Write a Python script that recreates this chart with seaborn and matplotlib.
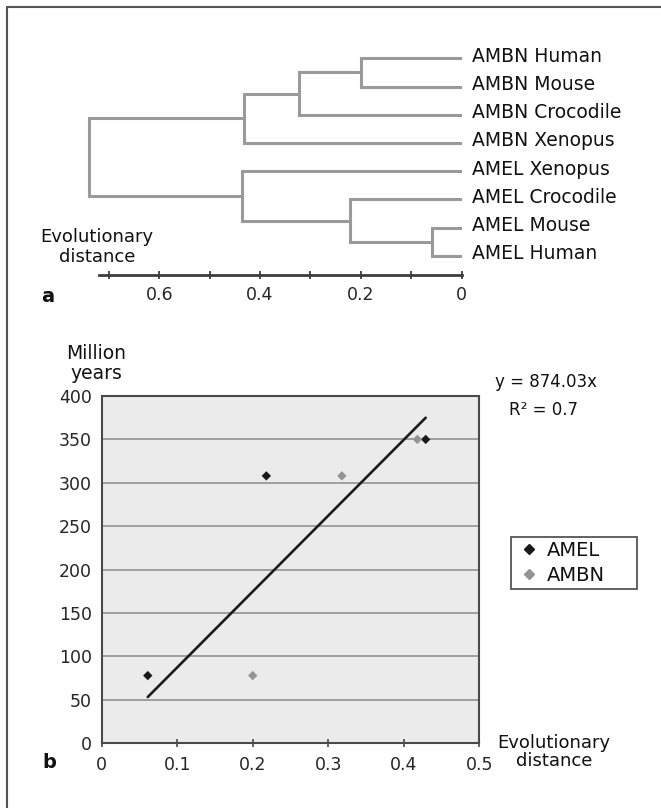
import numpy as np
import pandas as pd
import matplotlib
matplotlib.use("Agg")
import matplotlib.pyplot as plt
from matplotlib.lines import Line2D
import seaborn as sns

# ---------------- data ----------------
# (a) dendrogram: leaves top-to-bottom, merges (children ids, merge distance)
leaf_labels = ["AMBN Human", "AMBN Mouse", "AMBN Crocodile", "AMBN Xenopus",
               "AMEL Xenopus", "AMEL Crocodile", "AMEL Mouse", "AMEL Human"]
merge_left = [0, 8, 9, 6, 5, 4, 10]
merge_right = [1, 2, 3, 7, 11, 12, 13]
merge_height = [0.200, 0.322, 0.431, 0.059, 0.222, 0.435, 0.740]
dendro_major_ticks = [0, 0.2, 0.4, 0.6]
dendro_minor_ticks = [0.1, 0.3, 0.5, 0.7]
dendro_tick_labels = ["0", "0.2", "0.4", "0.6"]

# (b) scatter: evolutionary distance vs divergence time
genes = ["AMEL", "AMEL", "AMEL", "AMBN", "AMBN", "AMBN"]
distance = [0.061, 0.218, 0.429, 0.200, 0.318, 0.418]
million_years = [78, 308, 350, 78, 308, 350]
slope = 874.03
r_squared = 0.7
x_ticks = [0, 0.1, 0.2, 0.3, 0.4, 0.5]
x_tick_labels = ["0", "0.1", "0.2", "0.3", "0.4", "0.5"]
y_ticks = [0, 50, 100, 150, 200, 250, 300, 350, 400]

# ---------------- style ----------------
sns.set_style("white")
plt.rcParams["font.family"] = ["DejaVu Sans"]
plt.rcParams["text.color"] = "#111111"

W, H = 661, 808
fig = plt.figure(figsize=(W / 100, H / 100), dpi=100)
fig.patch.set_facecolor("white")

def fx(px):
    return px / W

def fy(py):
    return 1 - py / H

# ---------------- (a) dendrogram ----------------
top_px, bot_px = 30, 290
leaf0_px, spacing_px = 58.3, 28.24
x0_px, x_zero_px, px_per_unit = 80, 461.6, 504.0
ax1 = fig.add_axes([fx(x0_px), fy(bot_px), fx(x_zero_px - x0_px), (bot_px - top_px) / H])
ax1.set_xlim((x_zero_px - x0_px) / px_per_unit, 0)
ylim_top = -(leaf0_px - top_px) / spacing_px
ylim_bot = (bot_px - leaf0_px) / spacing_px
ax1.set_ylim(ylim_bot, ylim_top)
ax1.set_facecolor("none")

node_y = list(range(len(leaf_labels)))
node_h = [0.0] * len(leaf_labels)
dcol = "#9a9a9a"
for l, r, h in zip(merge_left, merge_right, merge_height):
    yl, yr = node_y[l], node_y[r]
    ax1.plot([node_h[l], h, h, node_h[r]], [yl, yl, yr, yr], color=dcol,
             lw=2.2, solid_joinstyle="miter", solid_capstyle="butt")
    node_y.append((yl + yr) / 2)
    node_h.append(h)

for i, lab in enumerate(leaf_labels):
    ax1.annotate(lab, xy=(0, i), xytext=(7.6, -2.4), textcoords="offset points",
                 ha="left", va="baseline", fontsize=13.5, annotation_clip=False)

for s in ["left", "right", "top"]:
    ax1.spines[s].set_visible(False)
axis_y = (275 - leaf0_px) / spacing_px
ax1.spines["bottom"].set_position(("data", axis_y))
ax1.spines["bottom"].set_bounds(0, 0.72)
ax1.spines["bottom"].set_color("#3d3d3d")
ax1.spines["bottom"].set_linewidth(2.0)
ax1.set_xticks(dendro_major_ticks)
ax1.set_xticklabels(dendro_tick_labels)
ax1.set_xticks(dendro_minor_ticks, minor=True)
ax1.tick_params(axis="x", which="both", direction="inout", length=5.5, width=1.3,
                color="#3d3d3d", bottom=True)
ax1.tick_params(axis="x", which="major", labelsize=12.5, pad=5)
ax1.set_yticks([])

fig.text(fx(97), fy(247), "Evolutionary\ndistance", ha="center", va="center",
         fontsize=13, linespacing=1.1)
fig.text(fx(48), fy(296.7), "a", ha="center", va="center", fontsize=14, fontweight="bold")

# ---------------- (b) scatter ----------------
df = pd.DataFrame({"gene": genes, "distance": distance, "myr": million_years})
L, R, T, B = 101.7, 479.3, 396.0, 743.3
ax2 = fig.add_axes([fx(L), fy(B), fx(R - L), (B - T) / H])
ax2.set_facecolor("#ebebeb")
ax2.set_xlim(0, 0.5)
ax2.set_ylim(0, 400)
ax2.set_axisbelow(True)
ax2.yaxis.grid(True, color="#8a8a8a", lw=1.1)
ax2.xaxis.grid(False)

palette = {"AMEL": "#1a1a1a", "AMBN": "#939393"}
reg_x = np.array([df["distance"].min(), df["distance"].max()])
sns.lineplot(x=reg_x, y=slope * reg_x, color="#1c1c1c", lw=1.9, ax=ax2, zorder=2)
sns.scatterplot(data=df, x="distance", y="myr", hue="gene", palette=palette,
                marker="D", s=23, linewidth=0, ax=ax2, legend=False, zorder=3)

for s in ax2.spines.values():
    s.set_color("#4a4a4a")
    s.set_linewidth(1.5)
ax2.set_xticks(x_ticks)
ax2.set_xticklabels(x_tick_labels)
ax2.set_yticks(y_ticks)
ax2.tick_params(axis="x", direction="inout", length=6, width=1.2, color="#4a4a4a",
                labelsize=12.5, pad=6, bottom=True)
ax2.tick_params(axis="y", length=0, labelsize=12.5, pad=7)
ax2.set_xlabel("")
ax2.set_ylabel("")

handles = [Line2D([], [], marker="D", linestyle="", color=palette[g], markersize=4.8)
           for g in ["AMEL", "AMBN"]]
leg = ax2.legend(handles, ["AMEL", "AMBN"], loc="upper left",
                 bbox_to_anchor=(fx(511.4), fy(537.3), fx(126), 0),
                 bbox_transform=fig.transFigure, mode="expand", borderaxespad=0,
                 fontsize=14, frameon=True, fancybox=False, borderpad=0.2,
                 handlelength=1.4, handletextpad=0.2, labelspacing=0.3)
leg.get_frame().set_edgecolor("#3a3a3a")
leg.get_frame().set_linewidth(1.4)
leg.get_frame().set_facecolor("white")

fig.text(fx(495.4), fy(381.7), f"y = {slope:.2f}x", ha="left", va="center", fontsize=12)
fig.text(fx(509), fy(410), f"R\u00b2 = {r_squared:g}", ha="left", va="center", fontsize=12)
fig.text(fx(96), fy(363.3), "Million\nyears", ha="center", va="center",
         fontsize=13.5, linespacing=1.07)
fig.text(fx(554), fy(752), "Evolutionary\ndistance", ha="center", va="center",
         fontsize=13, linespacing=1.07)
fig.text(fx(49), fy(762.7), "b", ha="center", va="center", fontsize=14, fontweight="bold")

# figure frame (top and left edges)
fig.add_artist(Line2D([fx(7), fx(7)], [0, fy(7)], transform=fig.transFigure,
                      color="#555555", lw=1.5))
fig.add_artist(Line2D([fx(7), 1], [fy(7), fy(7)], transform=fig.transFigure,
                      color="#555555", lw=1.5))

fig.savefig("out.png", dpi=100, facecolor="white")
